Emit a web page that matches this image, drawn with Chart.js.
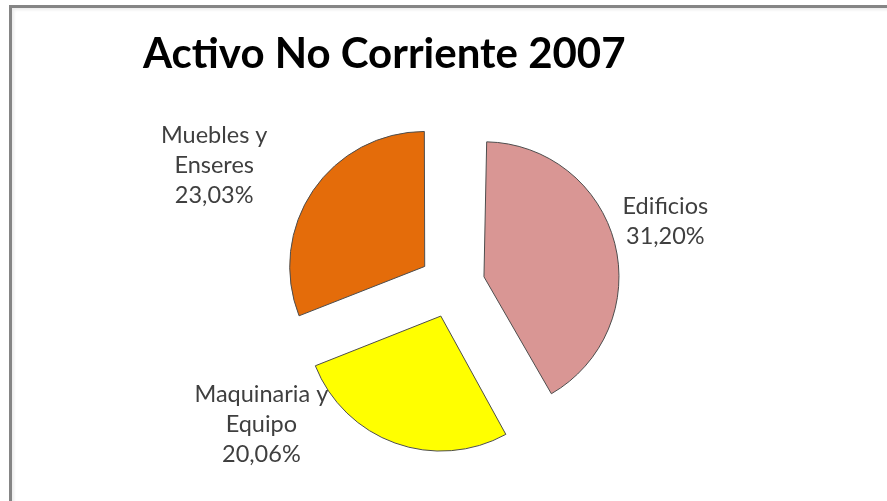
<!DOCTYPE html>
<html>
<head>
<meta charset="utf-8">
<script src="https://cdn.jsdelivr.net/npm/chart.js@4"></script>
<style>
	html, body { margin: 0; padding: 0; background: #fff; }
	#wrap { position: relative; width: 887px; height: 501px; overflow: hidden; }
	#wrap canvas { position: absolute; left: 0; top: 0; }
	#frame {
		position: absolute; left: 9px; top: 5px; width: 900px; height: 520px;
		border-left: 3px solid #858585; border-top: 3px solid #858585;
		box-shadow: inset 2px 2px 3px rgba(0,0,0,0.08);
	}
</style>
</head>
<body>
<div id="wrap">
	<canvas id="myChart" width="887" height="501"></canvas>
	<div id="frame"></div>
</div>
<script>
const categories = [['Edificios'], ['Maquinaria y', 'Equipo'], ['Muebles y', 'Enseres']];
const shares = [31.20, 20.06, 23.03];
const sliceColors = ['#D99694', '#FFFF00', '#E46C0A'];
const chartTitle = 'Activo No Corriente 2007';

const pieRadius = 135;

// label spot for each slice: turn (deg) away from the slice middle, distance in radii
const labelSpots = [
	{ turn: -2.3, dist: 1.65 },
	{ turn: 34, dist: 1.75 },
	{ turn: -7.6, dist: 1.97 }
];

function pct(v) {
	return v.toFixed(2).replace('.', ',') + '%';
}

// arcs narrower than a half turn get a radius bump when offset; take it back out
const keepRadius = {
	id: 'keepRadius',
	afterDatasetsUpdate(chart) {
		for (let arc of chart.getDatasetMeta(0).data) {
			let off = (arc.options.offset || 0) / 4;
			let fix = 1 - Math.sin(Math.min(Math.PI, arc.circumference));
			arc.outerRadius -= off * fix;
		}
	}
};

const sliceLabels = {
	id: 'sliceLabels',
	afterDatasetsDraw(chart) {
		const ctx = chart.ctx;
		ctx.save();
		ctx.font = '23.5px Lato';
		ctx.fillStyle = '#3f3f3f';
		ctx.textAlign = 'center';
		ctx.textBaseline = 'middle';
		chart.getDatasetMeta(0).data.forEach((arc, i) => {
			let spot = labelSpots[i];
			let a = (arc.startAngle + arc.endAngle) / 2 + spot.turn * Math.PI / 180;
			let cx = arc.x + Math.cos(a) * pieRadius * spot.dist;
			let cy = arc.y + Math.sin(a) * pieRadius * spot.dist;
			let lines = [...categories[i], pct(shares[i])];
			let lh = 30;
			lines.forEach((t, k) => {
				ctx.fillText(t, cx, cy + (k - (lines.length - 1) / 2) * lh);
			});
		});
		ctx.restore();
	}
};

const ctx = document.getElementById('myChart');

new Chart(ctx, {
	type: 'pie',
	data: {
		labels: categories,
		datasets: [{
			data: shares,
			backgroundColor: sliceColors,
			borderColor: '#4d4d4d',
			borderWidth: 1,
			offset: 132,
			radius: pieRadius
		}]
	},
	options: {
		responsive: false,
		animation: false,
		events: [],
		layout: {
			padding: { left: 143, right: 126, top: 0, bottom: 10.4 }
		},
		plugins: {
			legend: { display: false },
			tooltip: { enabled: false },
			title: {
				display: true,
				text: chartTitle,
				align: 'start',
				color: '#000',
				font: { family: 'Lato', size: 42, weight: 'bold', lineHeight: 1.2 },
				padding: { top: 29, bottom: 0 }
			}
		}
	},
	plugins: [keepRadius, sliceLabels]
});
</script>
</body>
</html>
